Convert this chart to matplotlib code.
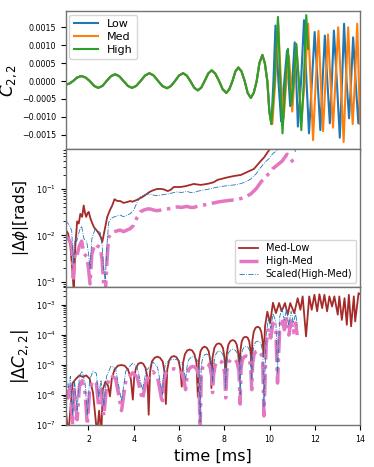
import matplotlib
matplotlib.use("Agg")
import matplotlib.pyplot as plt
import numpy as np

# ---------------- top panel: C22 waveforms (read-off samples) ---------------------
t_common = [1.0, 1.16, 1.32, 1.50, 1.69, 1.87, 2.06, 2.25, 2.43, 2.62, 2.80, 2.99,
            3.18, 3.36, 3.55, 3.74, 3.92, 4.11, 4.30, 4.50, 4.69, 4.88, 5.08, 5.27,
            5.47, 5.64, 5.82, 6.00, 6.18, 6.34, 6.50, 6.67, 6.83, 6.98, 7.13, 7.29,
            7.44, 7.60, 7.77, 7.93, 8.09, 8.22, 8.36, 8.49, 8.62, 8.76, 8.90, 9.03,
            9.17, 9.30, 9.43, 9.55, 9.68, 9.79, 9.90, 9.99, 10.08]
c_common = [-0.0001, -0.00007, 0.0, 0.0001, 0.00014, 0.0001, 0.0, -0.000135,
            -0.00019, -0.000135, 0.0, 0.000135, 0.00019, 0.000135, 0.0, -0.000135,
            -0.00019, -0.000135, 0.0, 0.000155, 0.00022, 0.000155, 0.0, -0.00014,
            -0.0002, -0.00014, 0.0, 0.000155, 0.00022, 0.000155, 0.0, -0.000185,
            -0.00026, -0.000185, 0.0, 0.00021, 0.0003, 0.00021, 0.0, -0.00023,
            -0.00033, -0.00023, 0.0, 0.00027, 0.00038, 0.00027, 0.0, -0.00033,
            -0.00047, -0.00033, 0.0, 0.0005, 0.00073, 0.0005, 0.0, -0.00085, -0.0012]

t_low_late = [10.17, 10.26, 10.39, 10.51, 10.65, 10.77, 10.84, 10.91, 11.00, 11.11,
              11.18, 11.25, 11.39, 11.52, 11.63, 11.74, 11.87, 11.99, 12.12, 12.24,
              12.34, 12.44, 12.55, 12.66, 12.75, 12.84, 12.97, 13.10, 13.20, 13.29,
              13.40, 13.51, 13.60, 13.69, 13.80, 13.92, 14.0]
c_low_late = [0.0, 0.00155, 0.0, -0.00113, 0.0, 0.00085, 0.0, -0.0007, 0.0, 0.00108,
              0.0, -0.00127, 0.0, 0.0017, 0.0, -0.00146, 0.0, 0.00137, 0.0, -0.00137,
              0.0, 0.00127, 0.0, -0.00118, 0.0, 0.00141, 0.0, -0.00158, 0.0, 0.0016,
              0.0, -0.00104, 0.0, 0.00122, 0.0, -0.00118, -0.0004]

t_med_late = [10.12, 10.25, 10.38, 10.50, 10.62, 10.74, 10.85, 10.93, 11.00, 11.09,
              11.18, 11.29, 11.40, 11.55, 11.70, 11.81, 11.92, 12.04, 12.16, 12.26,
              12.36, 12.47, 12.58, 12.69, 12.80, 12.91, 13.03, 13.15, 13.27, 13.37,
              13.47, 13.57, 13.67, 13.77, 13.87, 13.94, 14.0]
c_med_late = [-0.0012, 0.0, 0.0016, 0.0, -0.00104, 0.0, 0.0007, 0.0, -0.00085, 0.0,
              0.001, 0.0, -0.00113, 0.0, 0.0016, 0.0, -0.00165, 0.0, 0.0014, 0.0,
              -0.0014, 0.0, 0.0013, 0.0, -0.0013, 0.0, 0.0015, 0.0, -0.0017, 0.0,
              0.0015, 0.0, -0.0012, 0.0, 0.0016, 0.0, -0.0012]

t_high_late = [10.22, 10.37, 10.47, 10.57, 10.70, 10.81, 10.88, 10.96, 11.07, 11.18,
               11.29, 11.40, 11.51, 11.62, 11.70]
c_high_late = [0.0, 0.00179, 0.0, -0.00146, 0.0, 0.0009, 0.0, -0.00066, 0.0, 0.00104,
               0.0, -0.00137, 0.0, 0.00184, 0.0009]

# ---------------- middle panel: |dphi| --------------------------------------------
t_dphi_ml = [1.0, 1.1, 1.2, 1.3, 1.35, 1.42, 1.5, 1.57, 1.64, 1.72, 1.79, 1.85, 1.9,
             1.96, 2.01, 2.1, 2.24, 2.35, 2.46, 2.55, 2.61, 2.7, 2.83, 2.95, 3.05,
             3.15, 3.27, 3.4, 3.55, 3.7, 3.85, 3.94, 4.1, 4.23, 4.4, 4.53, 4.68, 4.82,
             5.03, 5.2, 5.32, 5.5, 5.62, 5.77, 6.06, 6.3, 6.65, 6.95, 7.1, 7.3, 7.54,
             7.69, 8.13, 8.43, 8.73, 9.0, 9.31, 9.61, 9.76, 9.98, 10.1]
v_dphi_ml = [0.013, 0.011, 0.006, 0.0015, 0.0006, 0.006, 0.02, 0.018, 0.029, 0.025,
             0.044, 0.03, 0.025, 0.03, 0.032, 0.022, 0.015, 0.013, 0.011, 0.009,
             0.0072, 0.012, 0.025, 0.035, 0.044, 0.06, 0.055, 0.055, 0.05, 0.052,
             0.055, 0.053, 0.057, 0.061, 0.068, 0.075, 0.085, 0.092, 0.1, 0.1, 0.098,
             0.09, 0.095, 0.11, 0.11, 0.115, 0.128, 0.122, 0.125, 0.13, 0.14, 0.156,
             0.177, 0.19, 0.2, 0.23, 0.27, 0.4, 0.48, 0.69, 0.85]

t_dphi_hm = [1.0, 1.04, 1.15, 1.26, 1.33, 1.41, 1.48, 1.6, 1.7, 1.8, 1.92, 2.0, 2.07,
             2.15, 2.29, 2.37, 2.52, 2.6, 2.67, 2.74, 2.82, 2.89, 3.0, 3.11, 3.26,
             3.4, 3.55, 3.7, 3.85, 3.99, 4.14, 4.29, 4.44, 4.6, 4.73, 4.88, 5.03,
             5.18, 5.32, 5.47, 5.62, 5.77, 5.92, 6.1, 6.36, 6.5, 6.65, 6.8, 6.95, 7.2,
             7.54, 7.69, 7.9, 8.13, 8.43, 8.73, 8.95, 9.17, 9.4, 9.61, 9.8, 10.0,
             10.13, 10.35, 10.56, 10.77, 10.9, 11.0, 11.16]
v_dphi_hm = [0.010, 0.0092, 0.008, 0.006, 0.0012, 0.004, 0.0035, 0.006, 0.0075,
             0.004, 0.0035, 0.002, 0.0009, 0.004, 0.0065, 0.006, 0.0055, 0.003,
             0.0009, 0.0005, 0.003, 0.009, 0.011, 0.0118, 0.0125, 0.013, 0.012,
             0.013, 0.014, 0.0164, 0.024, 0.032, 0.035, 0.037, 0.037, 0.035, 0.034,
             0.035, 0.036, 0.037, 0.038, 0.040, 0.041, 0.040, 0.042, 0.040, 0.040,
             0.042, 0.044, 0.046, 0.050, 0.052, 0.054, 0.056, 0.058, 0.062, 0.068,
             0.078, 0.1, 0.139, 0.18, 0.22, 0.27, 0.33, 0.40, 0.56, 0.48, 0.40, 0.30]

# ---------------- bottom panel: |dC22| --------------------------------------------
t_dc_ml = [1.0, 1.11, 1.3, 1.45, 1.6, 1.75, 1.9, 2.05, 2.2, 2.38, 2.47, 2.57, 2.63,
           2.75, 2.87, 2.95,
           3.03, 3.15, 3.3, 3.45, 3.6, 3.75, 3.87, 3.96,
           4.02, 4.1, 4.2, 4.31, 4.42, 4.52, 4.6, 4.66,
           4.72, 4.8, 4.92, 5.04, 5.16, 5.28, 5.36, 5.42,
           5.48, 5.56, 5.66, 5.77, 5.88, 5.98, 6.06, 6.12,
           6.18, 6.26, 6.36, 6.47, 6.58, 6.68, 6.77, 6.83,
           6.88, 6.95, 7.04, 7.13, 7.22, 7.31, 7.38, 7.43,
           7.48, 7.56, 7.65, 7.75, 7.85, 7.94, 8.01, 8.06,
           8.11, 8.18, 8.27, 8.37, 8.47, 8.55, 8.62, 8.67,
           8.71, 8.77, 8.85, 8.94, 9.03, 9.1, 9.16, 9.2,
           9.24, 9.3, 9.38, 9.47, 9.56, 9.63, 9.69, 9.74,
           9.8, 9.9, 10.02, 10.15, 10.28, 10.42, 10.53, 10.68,
           10.80, 10.91, 11.09, 11.24, 11.36, 11.46, 11.61, 11.75, 11.86, 11.98,
           12.10, 12.20, 12.32, 12.42, 12.54, 12.64, 12.76, 12.86, 13.01, 13.08,
           13.19, 13.31, 13.41, 13.50, 13.60, 13.72, 13.78, 13.93, 14.0]
v_dc_ml = [3e-7, 5e-8, 2.5e-6, 3.5e-6, 4.5e-6, 4e-6, 4.5e-6, 3.5e-6, 1.2e-6, 5e-8,
           3e-7, 5e-8, 1.5e-6, 2.8e-6, 2e-6, 9e-7,
           3.5e-6, 7e-6, 9.5e-6, 1e-5, 9.5e-6, 7e-6, 3.5e-6, 7e-7,
           4e-6, 8e-6, 1.1e-5, 1.2e-5, 1.1e-5, 8e-6, 4e-6, 2.2e-7,
           6e-6, 1.3e-5, 1.75e-5, 1.9e-5, 1.75e-5, 1.3e-5, 6e-6, 5e-7,
           7e-6, 1.4e-5, 1.85e-5, 2e-5, 1.85e-5, 1.4e-5, 7e-6, 1.9e-6,
           1.2e-5, 2.3e-5, 3.05e-5, 3.3e-5, 3.05e-5, 2.3e-5, 1.2e-5, 8.7e-7,
           1.4e-5, 2.9e-5, 3.8e-5, 4.1e-5, 3.8e-5, 2.9e-5, 1.4e-5, 1.7e-6,
           1.8e-5, 3.7e-5, 4.9e-5, 5.3e-5, 4.9e-5, 3.7e-5, 1.8e-5, 3.2e-6,
           2.4e-5, 4.8e-5, 6.3e-5, 6.8e-5, 6.3e-5, 4.8e-5, 2.4e-5, 5.4e-6,
           3e-5, 6.2e-5, 8.2e-5, 8.8e-5, 8.2e-5, 6.2e-5, 3e-5, 8.8e-6,
           6.5e-5, 1.3e-4, 1.75e-4, 1.9e-4, 1.75e-4, 1.3e-4, 6.5e-5, 1.9e-5,
           2e-4, 6e-4, 2.5e-4, 1.2e-3, 5.4e-4, 1.17e-3, 6.2e-4, 1.17e-3,
           4.8e-4, 1.17e-3, 5.4e-4, 1.7e-3, 7e-4, 1.95e-3, 9e-5, 1.95e-3, 7e-4, 2.2e-3,
           6.2e-4, 2.3e-3, 7.9e-4, 2.2e-3, 6.2e-4, 1.95e-3, 9e-4, 1.95e-3, 4.8e-4, 1.95e-3,
           3.2e-4, 1.7e-3, 2.2e-4, 2.2e-3, 1.95e-4, 1.95e-3, 2.85e-4, 2.5e-3, 2.3e-3]

t_dc_hm = [1.0, 1.1, 1.2, 1.3, 1.38, 1.5, 1.6, 1.72, 1.85, 1.95, 2.05, 2.2, 2.35,
           2.45, 2.55, 2.68, 2.8, 3.0, 3.2, 3.46, 3.65, 3.95, 4.15, 4.38, 4.55, 4.85,
           5.05, 5.27,
           5.33, 5.42, 5.6, 5.78, 5.95, 6.12, 6.22, 6.29,
           6.35, 6.42, 6.52, 6.61, 6.7, 6.8, 6.88, 6.93,
           6.98, 7.05, 7.13, 7.21, 7.29, 7.37, 7.44, 7.48,
           7.53, 7.6, 7.69, 7.78, 7.87, 7.95, 8.02, 8.06,
           8.11, 8.18, 8.28, 8.38, 8.48, 8.57, 8.65, 8.7,
           8.74, 8.8, 8.88, 8.96, 9.04, 9.11, 9.17, 9.21,
           9.25, 9.31, 9.39, 9.48, 9.57, 9.64, 9.7, 9.75,
           9.85, 9.95, 10.05, 10.15, 10.28, 10.35,
           10.45, 10.55, 10.65, 10.75, 10.85, 10.95, 11.05, 11.15, 11.22]
v_dc_hm = [1.5e-6, 8e-7, 2e-6, 1e-7, 1.5e-6, 1.5e-7, 2e-6, 3e-6, 1.2e-6, 1e-7,
           1.5e-6, 3e-6, 2.5e-6, 4e-7, 1.5e-6, 2e-7, 2e-6, 4.5e-6, 3.5e-6, 3e-7,
           3e-6, 5.5e-6, 4e-6, 7e-7, 3e-6, 6e-6, 4e-6, 5e-7,
           3e-6, 5.5e-6, 7e-6, 7.5e-6, 7e-6, 5.5e-6, 3e-6, 1.5e-6,
           4e-6, 7e-6, 8.5e-6, 9e-6, 8.5e-6, 7e-6, 4e-6, 6e-8,
           4.5e-6, 8.5e-6, 1.05e-5, 1.1e-5, 1.05e-5, 8.5e-6, 4.5e-6, 1.2e-6,
           5e-6, 1e-5, 1.3e-5, 1.4e-5, 1.3e-5, 1e-5, 5e-6, 8e-7,
           6e-6, 1.2e-5, 1.5e-5, 1.6e-5, 1.5e-5, 1.2e-5, 6e-6, 5e-7,
           8e-6, 1.5e-5, 1.9e-5, 2e-5, 1.9e-5, 1.5e-5, 8e-6, 1.5e-6,
           1.1e-5, 2.2e-5, 2.8e-5, 3e-5, 2.8e-5, 2.2e-5, 1.1e-5, 2e-7,
           5e-5, 1.7e-4, 8e-5, 2.5e-4, 1.3e-4, 2.5e-6,
           2e-4, 3.7e-4, 1.5e-4, 3.5e-4, 1e-4, 3e-4, 1.2e-4, 2.5e-4, 1e-4]

SCALE = 2.1  # factor applied to High-Med for the "Scaled" curve

# ---------------- figure ----------------------------------------------------------
fig, axes = plt.subplots(3, 1, sharex=True, figsize=(3.74, 4.67), dpi=100)
fig.subplots_adjust(left=0.176, right=0.963, top=0.976, bottom=0.09, hspace=0)
ax1, ax2, ax3 = axes

ax1.plot(t_common + t_low_late, c_common + c_low_late, color='tab:blue', lw=1.5, label='Low')
ax1.plot(t_common + t_med_late, c_common + c_med_late, color='tab:orange', lw=1.5, label='Med')
ax1.plot(t_common + t_high_late, c_common + c_high_late, color='tab:green', lw=1.5, label='High')
ax1.set_ylim(-0.0019, 0.00195)
ax1.set_ylabel(r'$C_{2,2}$', fontsize=12, labelpad=2)
ax1.legend(loc='upper left', fontsize=8, labelspacing=0.25, borderaxespad=0.3,
           handlelength=2.2)

ax2.plot(t_dphi_ml, v_dphi_ml, color='brown', lw=1.3, label='Med-Low')
ax2.plot(t_dphi_hm, v_dphi_hm, color='tab:pink', lw=2.5, ls='-.', label='High-Med')
ax2.plot(t_dphi_hm, np.array(v_dphi_hm) * SCALE, color='tab:blue', lw=0.6, ls='-.',
         label='Scaled(High-Med)')
ax2.set_yscale('log')
ax2.set_ylim(7.7e-4, 0.72)
ax2.set_ylabel(r'$|\Delta\phi|$[rads]', fontsize=11)
ax2.legend(loc='lower right', fontsize=7, labelspacing=0.3, borderaxespad=0.4,
           handlelength=2.0)

ax3.plot(t_dc_ml, v_dc_ml, color='brown', lw=1.3)
ax3.plot(t_dc_hm, v_dc_hm, color='tab:pink', lw=2.5, ls='-.')
ax3.plot(t_dc_hm, np.array(v_dc_hm) * SCALE, color='tab:blue', lw=0.6, ls='-.')
ax3.set_yscale('log')
ax3.set_ylim(1e-7, 4e-3)
ax3.set_ylabel(r'$|\Delta C_{2,2}|$', fontsize=12)
ax3.set_xlabel('time [ms]', fontsize=11.5)
ax3.set_xlim(1, 14)

for ax in axes:
    ax.tick_params(labelsize=5.7)
    for s in ax.spines.values():
        s.set_color('0.45')
        s.set_linewidth(1.0)

fig.savefig('out.png', dpi=100)
